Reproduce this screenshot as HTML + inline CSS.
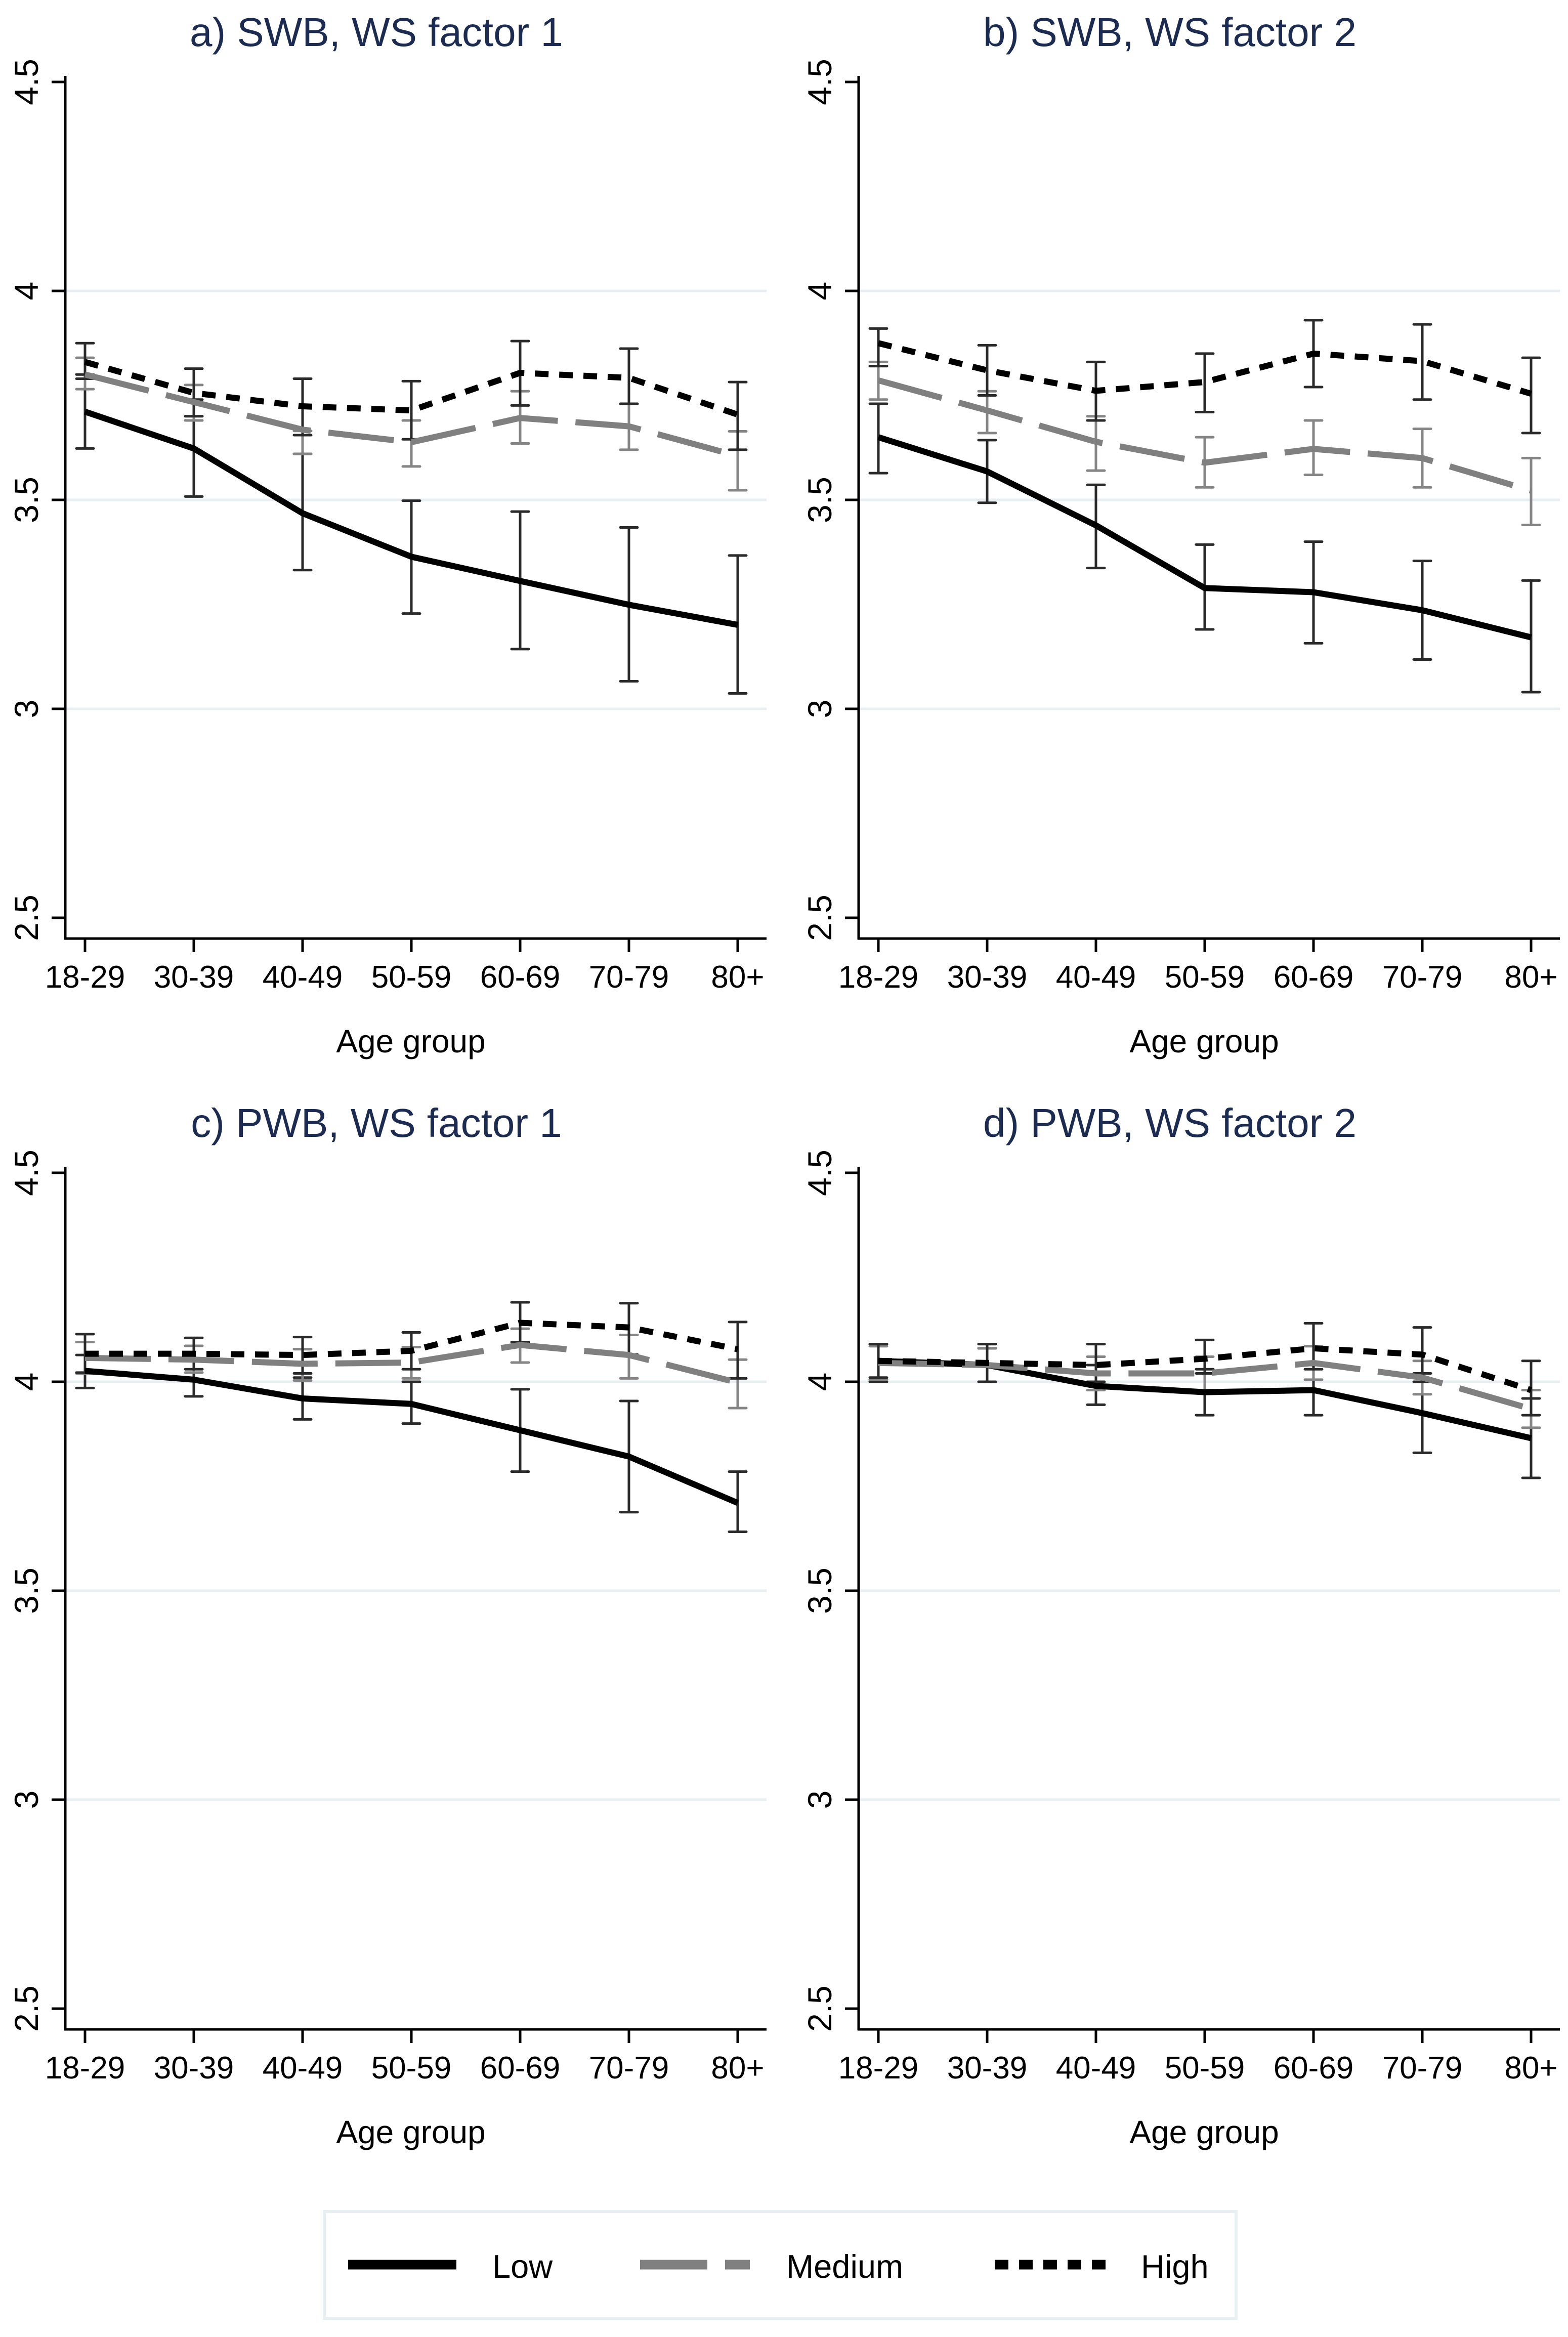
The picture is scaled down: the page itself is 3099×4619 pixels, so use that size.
<!DOCTYPE html>
<html><head><meta charset="utf-8">
<style>
html,body{margin:0;padding:0;background:#fff;}
svg{display:block;}
text{font-family:"Liberation Sans",Arial,sans-serif;}
</style></head>
<body>
<svg id="chart" width="3099" height="4619" viewBox="0 0 3099 4619" xmlns="http://www.w3.org/2000/svg">
<rect width="3099" height="4619" fill="#fff"/>
<g id="legend">
  <rect x="641" y="4371" width="1802" height="211" fill="#fff" stroke="#e8eff2" stroke-width="6"/>
  <line x1="688" y1="4476" x2="902" y2="4476" stroke="#000" stroke-width="19"/>
  <text x="973" y="4502" font-size="65">Low</text>
  <line x1="1265" y1="4476" x2="1482" y2="4476" stroke="#808080" stroke-width="19" stroke-dasharray="133,35"/>
  <text x="1554" y="4502" font-size="65">Medium</text>
  <line x1="1966" y1="4476" x2="2185" y2="4476" stroke="#000" stroke-width="19" stroke-dasharray="27,21"/>
  <text x="2255" y="4502" font-size="65">High</text>
</g>
</svg>
<script>
const categories = ["18-29","30-39","40-49","50-59","60-69","70-79","80+"];
const yTicks = [2.5, 3, 3.5, 4, 4.5];
const yTickLabels = ["2.5","3","3.5","4","4.5"];
const panelTitles = ["a) SWB, WS factor 1","b) SWB, WS factor 2","c) PWB, WS factor 1","d) PWB, WS factor 2"];

// Panel a
const aLow = [3.711,3.623,3.468,3.364,3.306,3.249,3.201];
const aLowLo = [3.623,3.508,3.332,3.228,3.143,3.066,3.037];
const aLowHi = [3.80,3.74,3.61,3.498,3.472,3.434,3.367];
const aMed = [3.80,3.734,3.668,3.638,3.696,3.676,3.605];
const aMedLo = [3.765,3.69,3.61,3.58,3.635,3.62,3.523];
const aMedHi = [3.84,3.775,3.665,3.69,3.76,3.73,3.664];
const aHigh = [3.83,3.756,3.724,3.714,3.804,3.792,3.704];
const aHighLo = [3.79,3.70,3.655,3.645,3.726,3.73,3.62];
const aHighHi = [3.875,3.814,3.79,3.784,3.88,3.862,3.782];
// Panel b
const bLow = [3.65,3.568,3.439,3.289,3.279,3.236,3.171];
const bLowLo = [3.564,3.493,3.337,3.19,3.157,3.118,3.04];
const bLowHi = [3.73,3.643,3.536,3.393,3.40,3.354,3.307];
const bMed = [3.786,3.714,3.639,3.589,3.622,3.60,3.522];
const bMedLo = [3.74,3.66,3.57,3.53,3.56,3.53,3.44];
const bMedHi = [3.83,3.76,3.70,3.65,3.69,3.67,3.60];
const bHigh = [3.875,3.81,3.761,3.782,3.85,3.832,3.754];
const bHighLo = [3.82,3.75,3.69,3.71,3.77,3.74,3.66];
const bHighHi = [3.91,3.87,3.83,3.85,3.93,3.92,3.84];
// Panel c
const cLow = [4.026,4.005,3.96,3.947,3.884,3.821,3.71];
const cLowLo = [3.985,3.965,3.91,3.90,3.785,3.688,3.641];
const cLowHi = [4.064,4.05,4.01,4.0,3.982,3.954,3.785];
const cMed = [4.057,4.053,4.043,4.046,4.088,4.064,3.998];
const cMedLo = [4.02,4.022,4.003,4.008,4.046,4.008,3.937];
const cMedHi = [4.095,4.086,4.078,4.083,4.127,4.112,4.053];
const cHigh = [4.067,4.067,4.064,4.074,4.141,4.13,4.078];
const cHighLo = [4.022,4.03,4.02,4.03,4.095,4.065,4.008];
const cHighHi = [4.114,4.105,4.107,4.118,4.19,4.188,4.143];
// Panel d
const dLow = [4.05,4.04,3.99,3.975,3.98,3.925,3.865];
const dLowLo = [4.0,4.0,3.945,3.92,3.92,3.83,3.77];
const dLowHi = [4.09,4.08,4.04,4.03,4.04,4.02,3.96];
const dMed = [4.045,4.04,4.02,4.02,4.045,4.01,3.935];
const dMedLo = [4.005,4.0,3.98,3.98,4.005,3.97,3.89];
const dMedHi = [4.085,4.08,4.06,4.06,4.085,4.05,3.98];
const dHigh = [4.05,4.045,4.04,4.055,4.08,4.065,3.98];
const dHighLo = [4.01,4.0,4.0,4.02,4.03,4.0,3.92];
const dHighHi = [4.09,4.09,4.09,4.10,4.14,4.13,4.05];

const panelsData = [
  [[aLow,aLowLo,aLowHi],[aMed,aMedLo,aMedHi],[aHigh,aHighLo,aHighHi]],
  [[bLow,bLowLo,bLowHi],[bMed,bMedLo,bMedHi],[bHigh,bHighLo,bHighHi]],
  [[cLow,cLowLo,cLowHi],[cMed,cMedLo,cMedHi],[cHigh,cHighLo,cHighHi]],
  [[dLow,dLowLo,dLowHi],[dMed,dMedLo,dMedHi],[dHigh,dHighLo,dHighHi]]
];
const seriesNames = ["low","medium","high"];

const NS = "http://www.w3.org/2000/svg";
const svg = document.getElementById("chart");
function mk(tag, attrs, parent){
  const e = document.createElementNS(NS, tag);
  for (const k in attrs) e.setAttribute(k, attrs[k]);
  (parent||svg).appendChild(e);
  return e;
}
const offsets = [[0,0],[1568,0],[0,2156],[1568,2156]];
const styles = [
  {stroke:"#000", dash:null, err:"#2a2a2a"},
  {stroke:"#808080", dash:"130,35", err:"#858585"},
  {stroke:"#000", dash:"27,21", err:"#2a2a2a"}
];

offsets.forEach((off, p) => {
  const dx = off[0], dy = off[1];
  const axisX = 129 + dx, rightX = 1515 + dx, bottomY = 1855 + dy;
  const xScale = i => 168 + dx + i * 215;
  const yScale = v => 162 + dy + (4.5 - v) * 826;
  const g = mk("g", {});
  
  

  const t = mk("text", {x: 744 + dx, y: 91 + dy, "font-size": 80, fill: "#1c2b52", "text-anchor": "middle"}, g);
  t.textContent = panelTitles[p];
  
  

  [3, 3.5, 4].forEach(v => {
    const gl = mk("line", {x1: axisX, x2: rightX, y1: yScale(v), y2: yScale(v), stroke: "#e8eff2", "stroke-width": 5}, g);
    
    
  });
  const ya = mk("line", {x1: axisX, x2: axisX, y1: 150 + dy, y2: bottomY + 2, stroke: "#000", "stroke-width": 5}, g);
  
  
  yTicks.forEach((v, i) => {
    const tk = mk("line", {x1: axisX - 27, x2: axisX, y1: yScale(v), y2: yScale(v), stroke: "#000", "stroke-width": 5}, g);
    
    
    const lb = mk("text", {x: 0, y: 0, "font-size": 66, "text-anchor": "middle", transform: `translate(${75 + dx},${yScale(v)}) rotate(-90)`}, g);
    lb.textContent = yTickLabels[i];
    
    
  });
  const xa = mk("line", {x1: axisX - 2, x2: rightX, y1: bottomY, y2: bottomY, stroke: "#000", "stroke-width": 5}, g);
  
  
  categories.forEach((c, i) => {
    const tk = mk("line", {x1: xScale(i), x2: xScale(i), y1: bottomY, y2: bottomY + 27, stroke: "#000", "stroke-width": 5}, g);
    
    
    const lb = mk("text", {x: xScale(i), y: 1952 + dy, "font-size": 62, "text-anchor": "middle"}, g);
    lb.textContent = c;
    
    
  });
  const xt = mk("text", {x: 812 + dx, y: 2080 + dy, "font-size": 64, "text-anchor": "middle"}, g);
  xt.textContent = "Age group";
  
  

  panelsData[p].forEach((ser, s) => {
    const st = styles[s];
    const vals = ser[0], lo = ser[1], hi = ser[2];
    vals.forEach((v, i) => {
      const x = xScale(i);
      const eb = mk("path", {d: `M${x},${yScale(lo[i])}V${yScale(hi[i])}M${x-17},${yScale(lo[i])}H${x+17}M${x-17},${yScale(hi[i])}H${x+17}`, stroke: st.err, "stroke-width": 5, "stroke-linecap": "round", fill: "none"}, g);
      
      
    });
  });
  panelsData[p].forEach((ser, s) => {
    const st = styles[s];
    const pts = ser[0].map((v, i) => xScale(i) + "," + yScale(v)).join(" ");
    const attrs = {points: pts, fill: "none", stroke: st.stroke, "stroke-width": 12, "stroke-linejoin": "round"};
    if (st.dash) attrs["stroke-dasharray"] = st.dash;
    const ln = mk("polyline", attrs, g);
    
    
  });
});
</script>
</body></html>
